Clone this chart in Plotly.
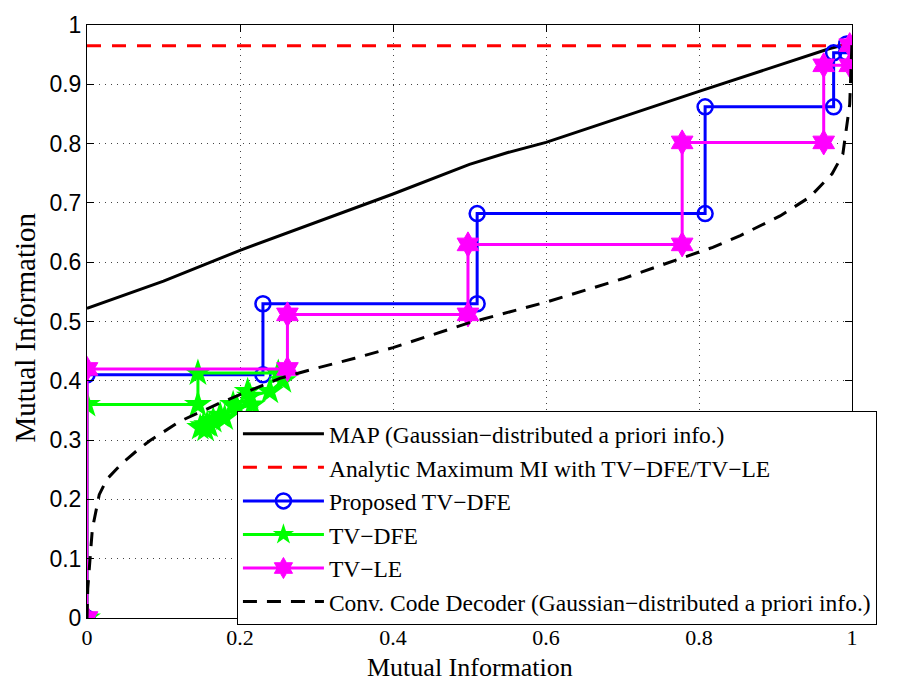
import plotly.graph_objects as go

# ---- data ----
map_x = [0, 0.05, 0.1, 0.2, 0.3, 0.4, 0.5, 0.55, 0.6, 0.65, 0.7, 0.8, 0.9, 0.97, 1.0]
map_y = [0.522, 0.545, 0.568, 0.62, 0.668, 0.715, 0.765, 0.785, 0.802, 0.823, 0.845, 0.888, 0.93, 0.96, 0.97]

ana_x = [0, 1]
ana_y = [0.965, 0.965]

pro_x = [0, 0, 0.23, 0.23, 0.51, 0.51, 0.808, 0.808, 0.976, 0.976, 0.993, 0.993]
pro_y = [0, 0.41, 0.41, 0.53, 0.53, 0.682, 0.682, 0.862, 0.862, 0.953, 0.953, 0.968]

dfe_x = [0, 0, 0.145, 0.145, 0.25, 0.256, 0.239, 0.213, 0.21, 0.216, 0.196, 0.191,
         0.18, 0.174, 0.165, 0.157, 0.152, 0.148, 0.155, 0.16]
dfe_y = [0, 0.36, 0.36, 0.413, 0.413, 0.40, 0.382, 0.374, 0.382, 0.359, 0.354, 0.36,
         0.337, 0.342, 0.333, 0.326, 0.324, 0.321, 0.318, 0.325]

le_x = [0, 0, 0.262, 0.262, 0.498, 0.498, 0.778, 0.778, 0.963, 0.963, 0.997, 0.997]
le_y = [0, 0.42, 0.42, 0.512, 0.512, 0.63, 0.63, 0.802, 0.802, 0.932, 0.932, 0.966]

dec_x = [0, 0.001, 0.004, 0.007, 0.016, 0.026, 0.045, 0.065, 0.082, 0.122, 0.178, 0.252,
         0.296, 0.35, 0.4, 0.45, 0.5, 0.601, 0.7, 0.775, 0.818, 0.854, 0.906, 0.945, 0.974,
         0.988, 0.997, 1.0]
dec_y = [0, 0.05, 0.10, 0.15, 0.208, 0.234, 0.26, 0.282, 0.299, 0.332, 0.365, 0.404,
         0.42, 0.438, 0.456, 0.477, 0.498, 0.533, 0.572, 0.606, 0.625, 0.645, 0.678, 0.71,
         0.749, 0.782, 0.866, 0.97]

x_ticks = [0, 0.2, 0.4, 0.6, 0.8, 1]
x_labels = ["0", "0.2", "0.4", "0.6", "0.8", "1"]
y_ticks = [0, 0.1, 0.2, 0.3, 0.4, 0.5, 0.6, 0.7, 0.8, 0.9, 1]
y_labels = ["0", "0.1", "0.2", "0.3", "0.4", "0.5", "0.6", "0.7", "0.8", "0.9", "1"]

axis_title = "Mutual Information"

names = [
    "MAP (Gaussian\u2212distributed a priori info.)",
    "Analytic Maximum MI with TV\u2212DFE/TV\u2212LE",
    "Proposed TV\u2212DFE",
    "TV\u2212DFE",
    "TV\u2212LE",
    "Conv. Code Decoder (Gaussian\u2212distributed a priori info.)",
]

SERIF = "Liberation Serif"
SANS = "Liberation Sans"

fig = go.Figure()
fig.add_trace(go.Scatter(x=map_x, y=map_y, mode="lines", name=names[0], legendgroup="g1",
                         line=dict(color="black", width=3)))
fig.add_trace(go.Scatter(x=ana_x, y=ana_y, mode="lines", name=names[1], legendgroup="g2",
                         line=dict(color="#ff0000", width=3, dash="14px,11px")))
fig.add_trace(go.Scatter(x=pro_x, y=pro_y, mode="lines+markers", name=names[2], legendgroup="g3",
                         line=dict(color="#0000ff", width=3),
                         marker=dict(symbol="circle-open", size=15, color="#0000ff",
                                     line=dict(width=2.5, color="#0000ff"))))
fig.add_trace(go.Scatter(x=dfe_x, y=dfe_y, mode="lines+markers", name=names[3], legendgroup="g4",
                         line=dict(color="#00ff00", width=3),
                         marker=dict(symbol="star", size=21, color="#00ff00",
                                     line=dict(width=0))))
fig.add_trace(go.Scatter(x=le_x, y=le_y, mode="lines+markers", name=names[4], legendgroup="g5",
                         line=dict(color="#ff00ff", width=3),
                         marker=dict(symbol="hexagram", size=19, color="#ff00ff",
                                     line=dict(width=1, color="#ff00ff"))))
fig.add_trace(go.Scatter(x=dec_x, y=dec_y, mode="lines", name=names[5], legendgroup="g6",
                         line=dict(color="black", width=3, dash="14px,10px")))

axis_common = dict(
    showline=True, linecolor="black", linewidth=1, mirror="ticks",
    ticks="inside", ticklen=7, tickcolor="black",
    showgrid=True, gridcolor="#444444", gridwidth=1, griddash="1px,5px",
    zeroline=False,
)

fig.update_xaxes(range=[0, 1], tickvals=x_ticks, ticktext=x_labels,
                 tickfont=dict(family=SERIF, size=22, color="black"),
                 **axis_common)
fig.update_yaxes(range=[0, 1], tickvals=y_ticks, ticktext=y_labels,
                 tickfont=dict(family=SANS, size=23, color="black"),
                 **axis_common)

fig.add_annotation(text=axis_title, xref="paper", yref="paper", x=0.5, y=-0.084,
                   xanchor="center", yanchor="middle", showarrow=False,
                   font=dict(family=SERIF, size=26, color="black"))
fig.add_annotation(text=axis_title, xref="paper", yref="paper", x=-0.081, y=0.49,
                   xanchor="center", yanchor="middle", showarrow=False, textangle=-90,
                   font=dict(family=SERIF, size=29, color="black"))

fig.update_layout(
    width=900, height=682,
    margin=dict(l=87, r=48, t=16, b=64),
    paper_bgcolor="white", plot_bgcolor="white",
    showlegend=True,
    legend=dict(x=0.196, y=0.349, xanchor="left", yanchor="top",
                bgcolor="white", bordercolor="black", borderwidth=1,
                font=dict(family=SERIF, size=23.5, color="black"),
                tracegroupgap=0, itemwidth=81),
    hovermode=False,
)

fig.write_html("out.html")
